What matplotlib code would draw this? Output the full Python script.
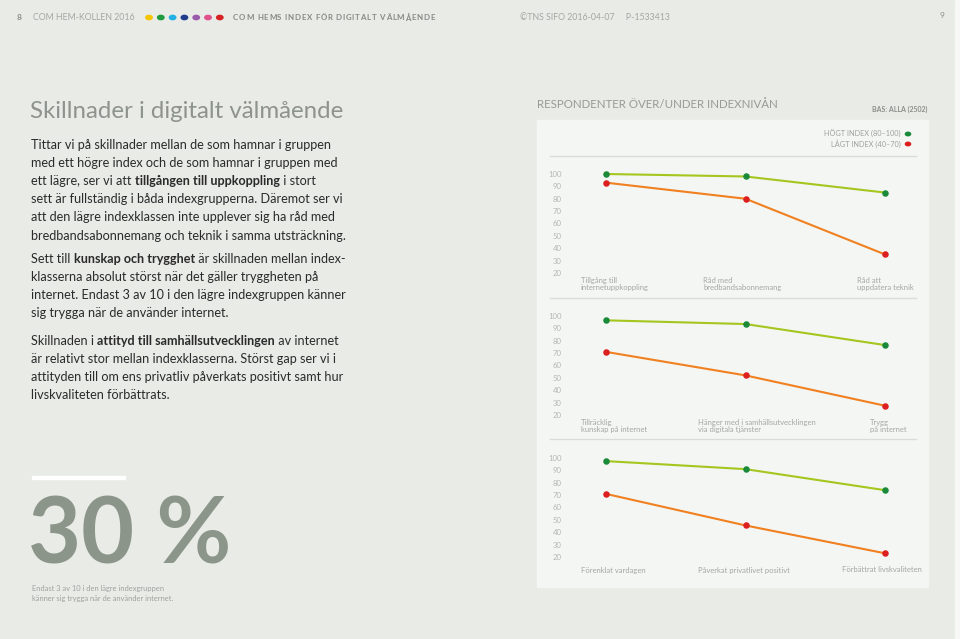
import matplotlib
matplotlib.use("Agg")
import matplotlib.pyplot as plt
from matplotlib.patches import Rectangle
from matplotlib.lines import Line2D

W, H = 960, 639
FONT = ["Lato", "DejaVu Sans"]
plt.rcParams["font.family"] = FONT

# data
panel_cats = [
    ["Tillgång till\ninternetuppkoppling", "Råd med\nbredbandsabonnemang", "Råd att\nuppdatera teknik"],
    ["Tillräcklig\nkunskap på internet", "Hänger med i samhällsutvecklingen\nvia digitala tjänster", "Trygg\npå internet"],
    ["Förenklat vardagen", "Påverkat privatlivet positivt", "Förbättrat livskvaliteten"],
]
high_index = [[100, 98, 85], [96.5, 93.5, 76.5], [97.5, 91, 74]]
low_index = [[93, 80, 35], [71, 52, 27.5], [71, 45.5, 23]]
yticks = [20, 30, 40, 50, 60, 70, 80, 90, 100]
header_dots = ["#f2c500", "#1f9a3d", "#22b1e2", "#1f3d8c", "#9b5bab", "#e2508d", "#d62222"]

BG = "#e9ebe7"
PANEL = "#f4f6f3"
GREY = "#959b95"
LIGHT = "#b3b8b3"
DARK = "#2b2b2b"
GREEN_LINE = "#a5c61e"
GREEN_DOT = "#1a8a3a"
ORANGE_LINE = "#f08020"
RED_DOT = "#dc2020"


def fx(x):
    return x / W


def fy(y):
    return 1 - y / H


fig = plt.figure(figsize=(W / 100, H / 100), dpi=100, facecolor=BG)
renderer = fig.canvas.get_renderer()


def text(x, y, s, **kw):
    kw.setdefault("va", "center")
    return fig.text(fx(x), fy(y), s, **kw)


def width_of(s, **kw):
    t = fig.text(0, 0, s + "|", **kw)
    w1 = t.get_window_extent(renderer).width
    t.remove()
    t = fig.text(0, 0, "|", **kw)
    w2 = t.get_window_extent(renderer).width
    t.remove()
    return w1 - w2


def rich_line(x, y, parts, size, color):
    cur = x
    for s, bold in parts:
        kw = dict(fontsize=size, fontweight="bold" if bold else "normal")
        text(cur, y, s, color=color, **kw)
        cur += width_of(s, **kw)


def tracked(x, y, s, track, **kw):
    cur = x
    for ch in s:
        text(cur, y, ch, **kw)
        cur += width_of(ch, **{k: v for k, v in kw.items() if k in ("fontsize", "fontweight")}) + track


# page edge
fig.patches.append(Rectangle((fx(955), 0), 5 / W, 1, transform=fig.transFigure, color="#f7f8f6", zorder=0))

# header
text(17, 18, "8", fontsize=6, color="#8a908a", fontweight="bold")
text(33, 18, "COM HEM-KOLLEN 2016", fontsize=6.3, color="#a3a8a3")
for i, c in enumerate(header_dots):
    fig.patches.append(plt.Circle((fx(149 + i * 11.8), fy(17.5)), 3.2 / W, transform=fig.transFigure,
                                  color=c, zorder=3))
tracked(233, 18, "COM HEMS INDEX FÖR DIGITALT VÄLMÅENDE", 0.75, fontsize=5.7,
        color="#858b85", fontweight="bold")
text(520, 18, "©TNS SIFO 2016-04-07     P-1533413", fontsize=6.3, color="#a3a8a3")
text(940, 15, "9", fontsize=6, color="#8a908a")

# left column
text(30, 111, "Skillnader i digitalt välmående", fontsize=17.3, color="#8d938d")
paras = [
    [[("Tittar vi på skillnader mellan de som hamnar i gruppen", False)],
     [("med ett högre index och de som hamnar i gruppen med", False)],
     [("ett lägre, ser vi att ", False), ("tillgången till uppkoppling", True), (" i stort", False)],
     [("sett är fullständig i båda indexgrupperna. Däremot ser vi", False)],
     [("att den lägre indexklassen inte upplever sig ha råd med", False)],
     [("bredbandsabonnemang och teknik i samma utsträckning.", False)]],
    [[("Sett till ", False), ("kunskap och trygghet", True), (" är skillnaden mellan index-", False)],
     [("klasserna absolut störst när det gäller tryggheten på", False)],
     [("internet. Endast 3 av 10 i den lägre indexgruppen känner", False)],
     [("sig trygga när de använder internet.", False)]],
    [[("Skillnaden i ", False), ("attityd till samhällsutvecklingen", True), (" av internet", False)],
     [("är relativt stor mellan indexklasserna. Störst gap ser vi i", False)],
     [("attityden till om ens privatliv påverkats positivt samt hur", False)],
     [("livskvaliteten förbättrats.", False)]],
]
para_tops = [145, 259, 341]
for top, lines in zip(para_tops, paras):
    for j, parts in enumerate(lines):
        rich_line(31, top + j * 18.1, parts, 9.1, DARK)

# big figure
fig.patches.append(Rectangle((fx(32), fy(479)), 93 / W, 3 / H, transform=fig.transFigure, color="white"))
text(28, 538, "30 %", fontsize=66, color="#8c958a", fontweight="bold", va="center")
text(32, 589, "Endast 3 av 10 i den lägre indexgruppen", fontsize=5.4, color="#9ea39e")
text(32, 598, "känner sig trygga när de använder internet.", fontsize=5.4, color="#9ea39e")

# right column
text(537, 105, "RESPONDENTER ÖVER/UNDER INDEXNIVÅN", fontsize=8.3, color=GREY)
text(927, 109, "BAS: ALLA (2502)", fontsize=5, color="#8a908a", fontweight="bold", ha="right")
fig.patches.append(Rectangle((fx(537), fy(587)), (928 - 537) / W, (587 - 120) / H,
                             transform=fig.transFigure, color=PANEL, zorder=0))
text(901, 134, "HÖGT INDEX (80–100)", fontsize=5.3, color="#9ea39e", ha="right")
text(901, 144, "LÅGT INDEX (40–70)", fontsize=5.3, color="#9ea39e", ha="right")
fig.patches.append(plt.Circle((fx(908), fy(134)), 2.6 / W, transform=fig.transFigure, color=GREEN_DOT))
fig.patches.append(plt.Circle((fx(908), fy(144)), 2.6 / W, transform=fig.transFigure, color=RED_DOT))
for ysep in [155.5, 298, 439]:
    fig.lines.append(Line2D([fx(550), fx(916)], [fy(ysep), fy(ysep)], transform=fig.transFigure,
                            color="#d9ddd9", lw=1))

# line panels: (y of 100, y of 20) in pixels
panel_y = [(174, 273), (316, 415), (458, 557)]
label_x = [[581, 703, 857], [581, 698, 870], [581, 698, 842]]
label_y = [284, 426, 570]
x0, x2 = 606, 885
for k in range(3):
    ytop, ybot = panel_y[k]
    ax = fig.add_axes([fx(x0), fy(ybot), (x2 - x0) / W, (ybot - ytop) / H], zorder=5)
    ax.set_facecolor("none")
    xs = range(len(high_index[k]))
    ax.plot(xs, high_index[k], color=GREEN_LINE, lw=1.5, zorder=2, clip_on=False)
    ax.plot(xs, low_index[k], color=ORANGE_LINE, lw=1.5, zorder=2, clip_on=False)
    ax.scatter(xs, high_index[k], s=22, color=GREEN_DOT, zorder=3, clip_on=False, linewidths=0)
    ax.scatter(xs, low_index[k], s=22, color=RED_DOT, zorder=3, clip_on=False, linewidths=0)
    ax.set_xlim(0, 2)
    ax.set_ylim(20, 100)
    ax.set_yticks(yticks)
    ax.set_yticklabels([str(v) for v in yticks], fontsize=5.6, color=LIGHT)
    ax.tick_params(axis="y", length=0, pad=32)
    ax.set_xticks([])
    for s in ax.spines.values():
        s.set_visible(False)
    for lx, lab in zip(label_x[k], panel_cats[k]):
        text(lx, label_y[k], lab, fontsize=5.5, color="#a3a8a3", linespacing=1.15)

fig.savefig("out.png", dpi=100, facecolor=BG)
